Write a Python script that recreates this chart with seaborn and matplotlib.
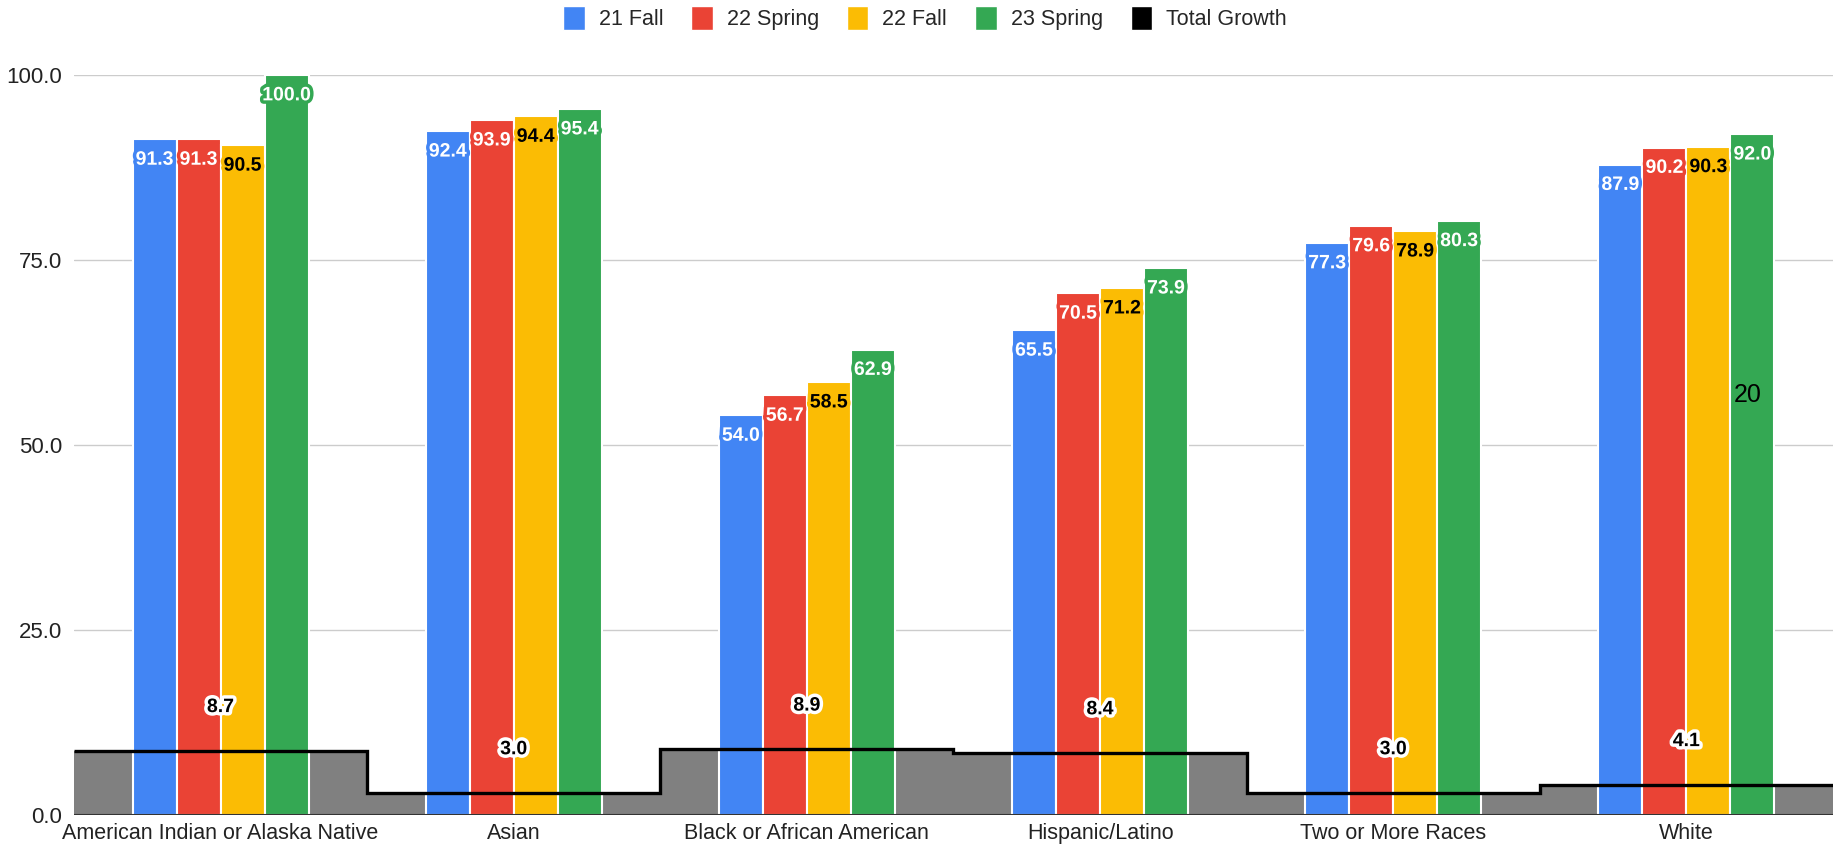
import matplotlib
matplotlib.use("Agg")
from matplotlib import pyplot as plt
from matplotlib.patches import Patch
import matplotlib.patheffects as pe
import numpy as np
import pandas as pd
import seaborn as sns

races = ["American Indian or Alaska Native", "Asian", "Black or African American",
         "Hispanic/Latino", "Two or More Races", "White"]
terms = ["21 Fall", "22 Spring", "22 Fall", "23 Spring"]
fall21 = [91.3, 92.4, 54.0, 65.5, 77.3, 87.9]
spring22 = [91.3, 93.9, 56.7, 70.5, 79.6, 90.2]
fall22 = [90.5, 94.4, 58.5, 71.2, 78.9, 90.3]
spring23 = [100.0, 95.4, 62.9, 73.9, 80.3, 92.0]
growth = [8.7, 3.0, 8.9, 8.4, 3.0, 4.1]

colors = ["#4285F4", "#EA4335", "#FBBC04", "#34A853"]
text_colors = ["white", "white", "black", "white"]

series = [fall21, spring22, fall22, spring23]
df = pd.DataFrame({
    "race": races * 4,
    "term": [t for t in terms for _ in races],
    "value": fall21 + spring22 + fall22 + spring23,
})

sns.set_style("white")
plt.rcParams["font.family"] = ["Liberation Sans", "DejaVu Sans"]

fig = plt.figure(figsize=(18.39, 8.5), dpi=100)
ax = fig.add_axes([74 / 1839, 1 - 815 / 850, (1833 - 74) / 1839, (815 - 75) / 850])

# gray stepped area for total growth, behind the bars
edges = np.arange(-0.5, len(races))
ax.stairs(growth, edges, fill=True, color="#808080", zorder=0.8, baseline=0)

sns.barplot(data=df, x="race", y="value", hue="term", palette=colors, order=races,
            hue_order=terms, width=0.6, edgecolor="white", linewidth=1.5,
            saturation=1, legend=False, ax=ax, zorder=2)

# black step line on top
ax.stairs(growth, edges, color="black", linewidth=2.4, baseline=None, zorder=3)

for i, cont in enumerate(ax.containers):
    for bar, v in zip(cont, series[i]):
        x = bar.get_x() + bar.get_width() / 2
        ax.annotate(f"{v:.1f}", (x, v), xytext=(0, -15), textcoords="offset points",
                    ha="center", va="center", fontsize=14, fontweight="bold",
                    color=text_colors[i], zorder=5,
                    path_effects=[pe.withStroke(linewidth=5, foreground=colors[i])])

for i, g in enumerate(growth):
    ax.annotate(f"{g:.1f}", (i, g), xytext=(0, 31), textcoords="offset points",
                ha="center", va="center", fontsize=14, fontweight="bold",
                color="black", zorder=5,
                path_effects=[pe.withStroke(linewidth=5, foreground="white")])

# stray label on the chart
ax.text(5.21, 56.7, "20", fontsize=18, color="black", ha="center", va="center", zorder=5)

ax.set_xlim(-0.5, len(races) - 0.5)
ax.set_ylim(0, 100)
ax.set_yticks([0, 25, 50, 75, 100])
ax.set_yticklabels(["0.0", "25.0", "50.0", "75.0", "100.0"])
ax.set_axisbelow(True)
ax.grid(axis="y", color="#cccccc", linewidth=1)
ax.grid(axis="x", visible=False)
for s in ax.spines.values():
    s.set_visible(False)
ax.axhline(0, color="#333333", linewidth=1.5, zorder=4)
ax.set_xlabel("")
ax.set_ylabel("")
ax.tick_params(axis="y", length=0, pad=8.5, labelsize=16, labelcolor="#222222")
ax.tick_params(axis="x", length=0, pad=6, labelsize=15.5, labelcolor="#222222")

handles = [Patch(facecolor=c, label=t) for c, t in zip(colors, terms)]
handles.append(Patch(facecolor="black", label="Total Growth"))
fig.legend(handles=handles, loc="center", bbox_to_anchor=(0.503, 1 - 18 / 850), ncol=5,
           frameon=False, fontsize=15.5, handlelength=1.0, handleheight=1.35,
           handletextpad=0.65, columnspacing=1.3)

fig.savefig("out.png", dpi=100)
